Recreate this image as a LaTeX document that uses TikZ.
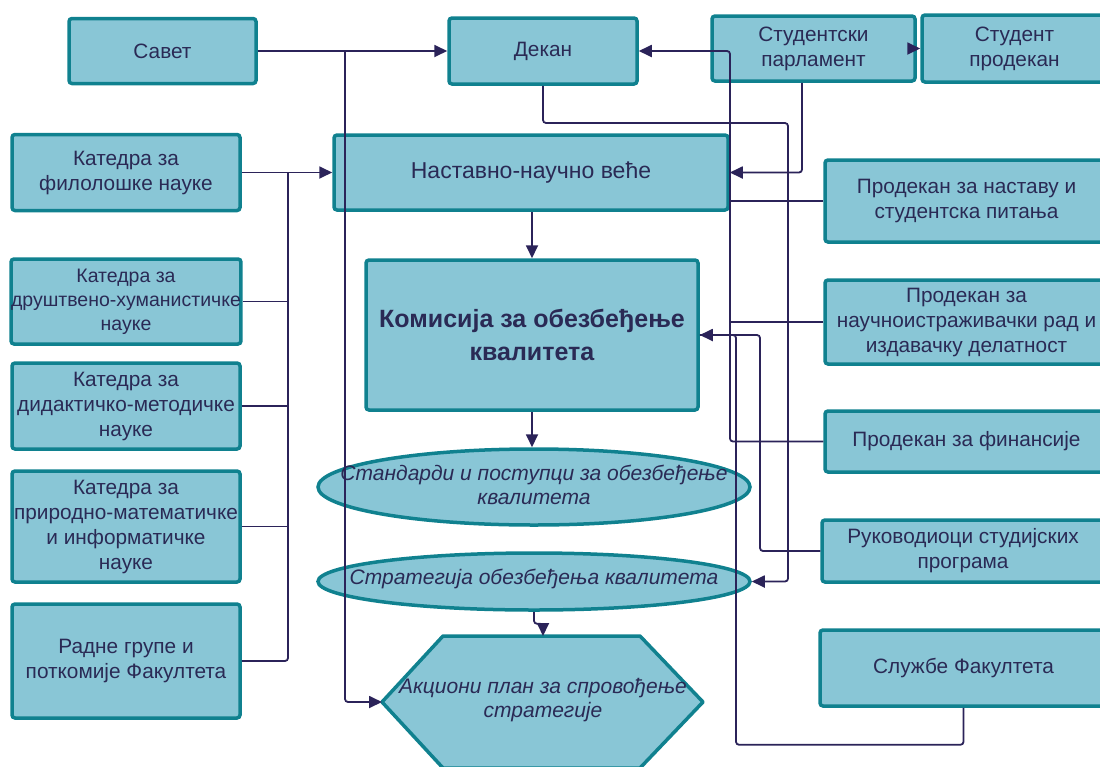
\documentclass[tikz,border=0pt]{standalone}
\usepackage{fontspec}
\setmainfont{Liberation Sans}
\usetikzlibrary{arrows.meta,shapes.geometric}
\definecolor{boxf}{HTML}{89C6D6}
\definecolor{boxb}{HTML}{10818F}
\definecolor{lc}{HTML}{2B2359}
\definecolor{txt}{HTML}{2A2A55}
\tikzset{
 box/.style={draw=boxb, fill=boxf, line width=3.5pt, rounded corners=3pt, text=txt, align=center, inner sep=0pt, font=\fontsize{20.8}{25}\selectfont},
 ell/.style={ellipse, draw=boxb, fill=boxf, line width=3.5pt, inner sep=0pt},
 itxt/.style={text=txt, align=center, inner sep=0pt, font=\fontsize{21}{24.5}\selectfont\itshape},
 conn/.style={draw=lc, line width=1.8pt, rounded corners=3pt},
 arr/.style={conn, -{Triangle[length=13pt,width=12pt]}},
}
\begin{document}
\begin{tikzpicture}[x=1pt,y=-1pt]
\useasboundingbox (0,0) rectangle (1100,766);
% nodes
\node[box, minimum width=187pt, minimum height=65pt] (savet) at (162.5,51) {Савет};
\node[box, minimum width=188pt, minimum height=66pt] (dekan) at (543,51) {Декан};
\node[box, minimum width=203pt, minimum height=65pt] (sp) at (813.5,48.5) {Студентски\\парламент};
\node[box, minimum width=185pt, minimum height=67pt] (spd) at (1014.5,48.5) {Студент\\продекан};
\node[box, minimum width=228pt, minimum height=76pt] (kf) at (126,172.5) {Катедра за\\филолошке науке};
\node[box, minimum width=394pt, minimum height=75pt, font=\fontsize{23}{25}\selectfont] (nnv) at (531,172.5) {Наставно-научно веће};
\node[box, minimum width=283pt, minimum height=82pt] (pn) at (966.5,201) {Продекан за наставу и\\студентска питања};
\node[box, minimum width=228pt, minimum height=85pt, font=\fontsize{19.5}{24}\selectfont] (kdh) at (126,301.5) {Катедра за\\друштвено-хуманистичке\\науке};
\node[box, minimum width=332pt, minimum height=150pt, font=\fontsize{25}{33}\selectfont\bfseries] (kom) at (532,335) {Комисија за обезбеђење\\квалитета};
\node[box, minimum width=283pt, minimum height=84pt] (pnir) at (966.5,322) {Продекан за\\научноистраживачки рад и\\издавачку делатност};
\node[box, minimum width=228pt, minimum height=86pt] (kdm) at (126,406) {Катедра за\\дидактичко-методичке\\науке};
\node[box, minimum width=283pt, minimum height=61pt] (pf) at (966.5,441.5) {Продекан за финансије};
\node[ell, minimum width=432pt, minimum height=76pt] (std) at (534,487) {};
\node[itxt] (stdt) at (534,485) {Стандарди и поступци за обезбеђење\\квалитета};
\node[box, minimum width=228pt, minimum height=111pt] (kpm) at (126,526.5) {Катедра за\\природно-математичке\\и информатичке\\науке};
\node[box, minimum width=282pt, minimum height=62pt] (rsp) at (963,551) {Руководиоци студијских\\програма};
\node[ell, minimum width=432pt, minimum height=57pt] (str) at (534,581.5) {};
\node[itxt] (strt) at (534,579) {Стратегија обезбеђења квалитета};
\node[box, minimum width=228pt, minimum height=114pt] (rg) at (126,661) {Радне групе и\\поткомије Факултета};
\node[box, minimum width=287pt, minimum height=76pt] (sf) at (963.5,668) {Службе Факултета};
\draw[draw=boxb, fill=boxf, line width=3.5pt, line join=round] (443,636) -- (640,636) -- (703,702) -- (640,768) -- (443,768) -- (382,702) -- cycle;
\node[itxt] (akc) at (543,700) {Акциони план за спровођење\\стратегије};
\coordinate (akcL) at (382,702);
\coordinate (akcT) at (543,636);
% connectors
\coordinate (sj) at (345,51);
\draw[arr] (savet.east) -- (dekan.west);
\draw[arr] (sj) |- (akcL);
\coordinate (bt) at (288,172.5);
\draw[arr] (kf.east) -- (nnv.west);
\draw[conn] (rg.east) -| (bt);
\draw[conn] (kdh.east) -- (kdh.east -| bt);
\draw[conn] (kdm.east) -- (kdm.east -| bt);
\draw[conn] (kpm.east) -- (kpm.east -| bt);
\draw[arr] (kom.north |- nnv.south) -- (kom.north);
\draw[arr] (kom.south) -- (kom.south |- std.north);
\draw[arr] (str.south) -- ++(0,12) -| (akcT);
\draw[arr] (dekan.south) |- (788,123) |- (str.east);
\draw[arr] ([xshift=-11.5pt]sp.south) |- (nnv.east);
\draw[arr] (sp.east) -- (spd.west);
\coordinate (rb) at (730,51);
\draw[arr] (pf.west) -| (rb) -- (dekan.east);
\draw[conn] (pn.west) -- (pn.west -| rb);
\draw[conn] (pnir.west) -- (pnir.west -| rb);
\draw[arr] (rsp.west) -| (760,335) -- (kom.east);
\draw[conn] (sf.south) -- ++(0,37) -| (736,335) -- (kom.east);
\end{tikzpicture}
\end{document}
